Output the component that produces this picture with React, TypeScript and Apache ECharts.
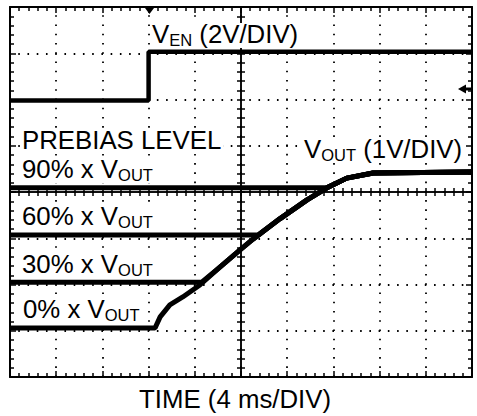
import React, { useEffect, useRef } from "react";
import * as echarts from "echarts";

// ---- data (in scope divisions) ----
const timeRange = [0, 10];
const levelRange = [0, 8];
const venTime = [0, 3.0, 3.0, 10];
const venLevel = [5.98, 5.98, 7.03, 7.03];
const rampTime = [3.14, 3.25, 3.46, 3.74, 4.11, 4.55, 4.98, 5.26, 5.84, 6.43, 6.86, 7.29, 7.86, 10];
const rampLevel = [1.06, 1.3, 1.56, 1.73, 1.99, 2.38, 2.75, 2.98, 3.42, 3.83, 4.09, 4.3, 4.41, 4.43];
const prebiasNames = ["0%", "30%", "60%", "90%"];
const prebiasLevel = [1.06, 2.05, 3.07, 4.09];
const prebiasJoin = [3.14, 4.15, 5.37, 6.86];

// ---- label texts ----
const venLabel = [{ t: "V" }, { t: "EN", sub: true }, { t: " (2V/DIV)" }];
const voutLabel = [{ t: "V" }, { t: "OUT", sub: true }, { t: " (1V/DIV)" }];
const prebiasTitle = "PREBIAS LEVEL";
const xTitle = "TIME (4 ms/DIV)";

// ---- layout ----
const W = 477;
const H = 416;
const FONT = '"Liberation Sans", Arial, Helvetica, sans-serif';
const MAIN = 25.8;
const SUB = 16.5;
const prebiasLabelX = [23, 22, 22, 22];
const prebiasLabelBase = [318, 273, 225, 178];

const ctx = document.createElement("canvas").getContext("2d") as CanvasRenderingContext2D;
function textWidth(t: string, size: number) {
  ctx.font = `${size}px ${FONT}`;
  return ctx.measureText(t).width;
}

function labelEls(parts: { t: string; sub?: boolean }[], x: number, base: number, bg = true) {
  const els: any[] = [];
  let cx = x;
  for (const p of parts) {
    const fs = p.sub ? SUB : MAIN;
    const w = textWidth(p.t, fs);
    const yb = base + (p.sub ? 2.5 : 0);
    els.push({
      type: "text",
      x: cx,
      y: yb - 0.35 * fs,
      z: 102,
      style: {
        text: p.t,
        fontSize: fs,
        fontFamily: FONT,
        fill: "#000",
        align: "left",
        verticalAlign: "middle",
        textAlign: "left",
        textVerticalAlign: "middle",
      },
    });
    cx += w;
  }
  if (bg) {
    els.unshift({
      type: "rect",
      z: 101,
      shape: { x: x - 2, y: base - 20, width: cx - x + 4, height: 25 },
      style: { fill: "#fff" },
    });
  }
  return els;
}

const dotted = {
  show: true,
  lineStyle: { color: "#000", width: 1.8, type: [1.6, 7.64], dashOffset: 0.8 },
};

function frameAxis(position: string, split: boolean, extra: any = {}) {
  return {
    type: "value",
    position,
    min: 0,
    interval: 1,
    axisLine: { show: true, onZero: false, lineStyle: { color: "#000", width: 2 } },
    axisTick: { show: true, inside: true, length: 6, lineStyle: { color: "#000", width: 1.5 } },
    minorTick: { show: true, splitNumber: 5, length: 4, lineStyle: { color: "#000", width: 1.5 } },
    axisLabel: { show: false },
    splitLine: split ? dotted : { show: false },
    ...extra,
  };
}

function centerAxis(position: string, inside: boolean, zeroIdx: number, extra: any = {}) {
  return {
    type: "value",
    position,
    min: 0,
    interval: 1,
    axisLine: { show: true, onZero: true, onZeroAxisIndex: zeroIdx, lineStyle: { color: "#000", width: 1.5 } },
    axisTick: { show: true, inside, length: 4, lineStyle: { color: "#000", width: 1.5 } },
    minorTick: { show: true, splitNumber: 5, length: 4, lineStyle: { color: "#000", width: 1.5 } },
    axisLabel: { show: false },
    splitLine: { show: false },
    ...extra,
  };
}

export default function App() {
  const ref = useRef<HTMLDivElement>(null);
  useEffect(() => {
    if (!ref.current) return;
    const chart = echarts.init(ref.current, null, { renderer: "svg" });
    const xMax = timeRange[1];
    const yMax = levelRange[1];

    const rampPts = rampTime.map((t, i) => [t, rampLevel[i]]);
    const prebiasSeries = prebiasNames.map((name, k) => ({
      name,
      type: "line",
      xAxisIndex: 0,
      yAxisIndex: 0,
      showSymbol: false,
      symbol: "none",
      silent: true,
      lineStyle: { color: "#000", width: 5 },
      data: [
        [timeRange[0], prebiasLevel[k]],
        [prebiasJoin[k], prebiasLevel[k]],
        ...rampPts.filter((p) => p[0] > prebiasJoin[k]),
      ],
      z: 3,
    }));

    const graphics: any[] = [];
    graphics.push(...labelEls(venLabel, 152, 43));
    graphics.push(...labelEls(voutLabel, 304, 158));
    graphics.push(...labelEls([{ t: prebiasTitle }], 22, 149));
    prebiasNames.forEach((n, k) => {
      graphics.push(...labelEls([{ t: n + " x V" }, { t: "OUT", sub: true }], prebiasLabelX[k], prebiasLabelBase[k]));
    });
    graphics.push(...labelEls([{ t: xTitle }], 139, 408, false));
    // channel marker on the right
    graphics.push({
      type: "polygon",
      z: 50,
      shape: { points: [[458, 89], [466, 84.5], [466, 93.5]] },
      style: { fill: "#000" },
    });
    graphics.push({
      type: "line",
      z: 50,
      shape: { x1: 464, y1: 89, x2: 472, y2: 89 },
      style: { stroke: "#000", lineWidth: 3 },
    });
    // trigger marker on top
    graphics.push({
      type: "polygon",
      z: 50,
      shape: { points: [[145, 8], [154, 8], [149.5, 14]] },
      style: { fill: "#000" },
    });

    chart.setOption({
      animation: false,
      backgroundColor: "#fff",
      grid: { left: 10, top: 7, width: 462, height: 370, containLabel: false },
      xAxis: [
        frameAxis("bottom", true, { max: xMax }),
        frameAxis("top", false, { max: xMax }),
        centerAxis("bottom", true, 2, { max: xMax }),
        centerAxis("bottom", false, 2, { max: xMax }),
        { type: "value", min: -5, max: 5, show: false, axisLine: { onZero: false } },
      ],
      yAxis: [
        frameAxis("left", true, { max: yMax }),
        frameAxis("right", false, { max: yMax }),
        { type: "value", min: -4, max: 4, show: false, axisLine: { onZero: false } },
        centerAxis("left", true, 4, { max: yMax }),
        centerAxis("left", false, 4, { max: yMax }),
      ],
      series: [
        {
          name: "VEN",
          type: "line",
          xAxisIndex: 0,
          yAxisIndex: 0,
          showSymbol: false,
          symbol: "none",
          silent: true,
          lineStyle: { color: "#000", width: 4.5 },
          data: venTime.map((t, i) => [t, venLevel[i]]),
          z: 3,
        },
        ...prebiasSeries,
      ],
      graphic: graphics,
    });
    return () => chart.dispose();
  }, []);
  return (
    <div
      ref={ref}
      style={{ position: "fixed", left: 0, top: 0, width: W, height: H, background: "#fff" }}
    />
  );
}
